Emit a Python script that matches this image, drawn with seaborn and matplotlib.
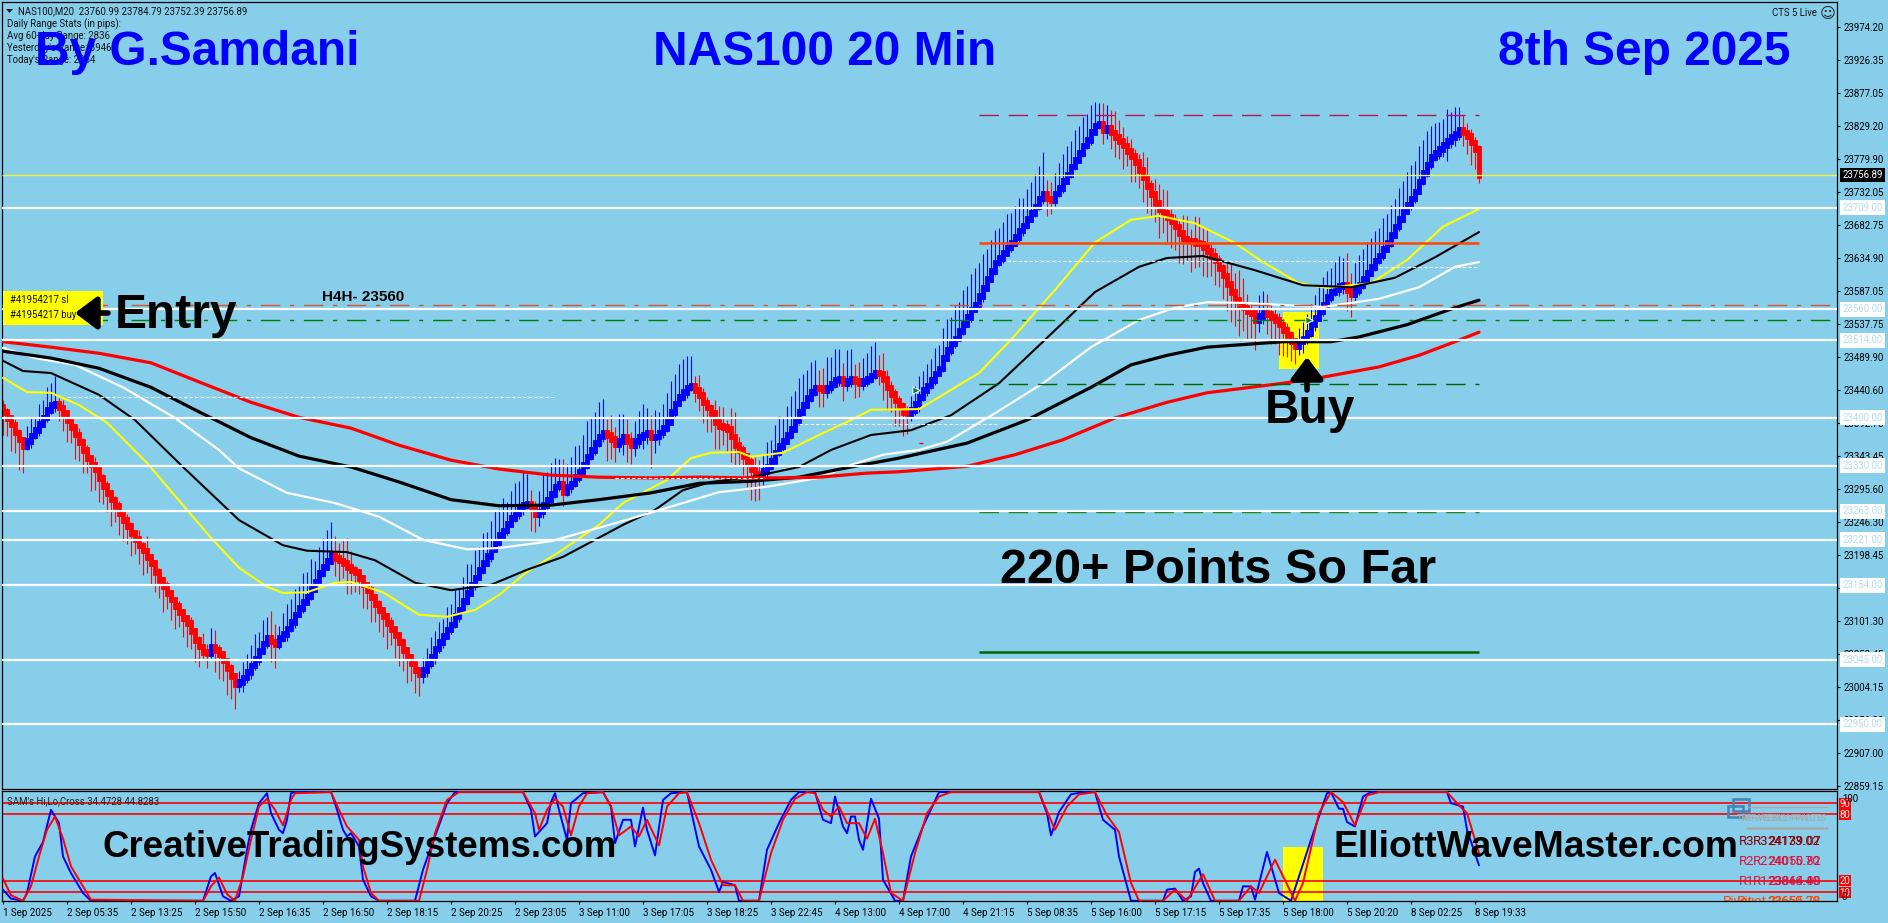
import matplotlib
matplotlib.use("Agg")
import matplotlib.pyplot as plt
from matplotlib.patches import Rectangle, FancyArrowPatch
import numpy as np
import seaborn as sns

W, H = 1888, 923
SKY = "#87CEEB"

closes = [
23409,23400,23390,23379,23368,23359,
23366,23374,23382,23391,23401,23412,23419,23421,
23415,23407,23396,23387,23376,23365,23353,23341,23332,23324,23312,23300,23290,23280,23271,23260,
23250,23241,23231,23222,23213,23205,23196,23187,23174,23162,23153,23143,23133,23124,23115,23106,
23099,23087,23074,23064,23056,23055,23064,23059,23053,23044,23033,23021,23009,
23012,23019,23027,23036,23046,23058,23069,23077,23072,23068,23077,23083,23091,23100,23111,23121,
23130,23138,23149,23160,23172,23181,23190,23199,
23194,23191,23187,23181,23177,23174,23165,23155,23147,23137,23127,23118,23109,23099,23090,23081,
23071,23059,23049,23039,23030,23024,
23030,23040,23050,23061,23071,23080,23089,23097,23109,23119,23131,23143,23155,23166,23177,23187,
23197,23207,23218,23228,23235,23244,23253,23260,23268,23272,23274,23268,23259,23263,23272,23280,
23288,23299,23303,23291,23299,23304,23313,23321,23331,23343,23353,23363,23373,
23378,23375,23369,23362,23366,23372,23366,23360,23366,23372,23376,23379,23371,23373,23379,23385,
23394,23409,23421,23431,23438,23445,23447,
23441,23434,23423,23415,23407,23394,23388,23387,23384,23373,23360,23353,23344,23335,23324,23318,
23316,23322,23329,23337,23349,23359,23366,23375,23384,23396,23409,23419,23429,23438,23445,23444,
23440,23445,23450,23456,23457,23451,23454,23457,23454,23451,23454,23457,23462,23466,23465,23457,
23445,23435,23426,23418,23409,23406,23412,
23421,23431,23441,23448,23456,23465,23473,23488,23500,23509,23517,23528,23538,23548,23559,23567,
23579,23591,23604,23616,23628,23635,23642,23650,23657,23666,23675,23683,23692,23701,23711,23722,
23730,23722,23720,23730,23738,23748,23758,23769,23779,23789,23800,23808,23820,23830,23832,
23822,23826,23819,23813,23807,23800,23792,23785,23776,23764,23753,23741,23729,23716,23706,23701,
23695,23689,23681,23672,23664,23661,23660,23657,23656,23651,23645,23638,23631,23620,23609,23597,
23585,23573,23566,23562,23557,23554,23544,23550,23556,23553,23548,23544,23537,23529,23522,23513,
23506,23512,23517,23525,23537,23547,23557,23567,23578,23585,23589,23594,23595,23587,23582,23588,
23595,23604,23613,23622,23631,23639,23648,23657,23669,23681,23692,23704,23713,23722,23733,23747,
23760,23772,23783,23789,23795,23801,23807,23813,23817,23823,23819,23814,23805,23795,23757,
]
first_open = 23416

upper_wick = [
10,6,4,8,5,3,22,28,18,30, 26,34,32,40,8,12,4,6,3,9, 5,7,3,10,4,6,8,3,5,7, 4,9,6,3,14,5,22,4,3,6,
5,8,4,3,7,5,3,9,4,6, 20,12,28,24,8,5,3,6,4,16, 22,26,30,36,28,34,30,40,25,18, 30,36,34,38,32,42,36,44,30,38,
42,46,48,28,22,30,36,24,6,4, 5,3,7,4,6,3,5,8,3,4, 6,3,5,8,4,18,22,28,26,30, 24,34,30,38,28,36,42,30,40,34,
44,36,42,46,38,48,32,40,44,40, 50,44,20,10,30,44,40,46,42,36, 36,34,38,46,40,44,52,48,46,50, 50,20,30,18,40,34,26,14,30,38,
44,36,26,38,30,36,42,46,44,48, 48,46,44,14,22,10,8,6,20,24, 28,10,30,36,12,8,5,7,18,20, 24,36,30,40,44,36,42,48,44,50,
46,42,44,40,26,30,44,40,46,44, 24,46,44,22,28,34,38,44,46,26, 30,14,10,8,6,5,9,20,26,30, 28,32,30,38,34,44,46,40,48,42,
50,46,52,54,48,50,44,46,48,44, 46,50,44,46,48,40,44,46,48,48, 60,20,24,30,36,40,42,38,44,40, 42,38,40,34,30,30,34,26,32,24,
20,14,18,10,12,26,30,8,22,28, 30,34,12,10,8,26,32,16,36,38, 24,28,10,12,8,6,20,30,28,44, 40,20,10,6,30,30,26,14,12,10,
8,10,6,5,20,24,28,30,34,38, 40,38,36,40,44,40,48,26,40,44, 44,46,42,44,40,46,42,44,40,46, 44,48,50,44,52,48,50,46,44,40,
38,47,36,40,34,22,14,10,8,6,
]
lower_wick = [
34,26,38,30,44,40,6,10,5,8, 4,7,6,10,20,26,32,24,36,28, 34,22,40,30,36,26,28,38,24,32, 30,26,34,22,28,36,24,32,30,26,
38,24,30,34,22,28,36,26,32,30, 10,22,8,32,36,30,40,34,36,12, 14,8,10,6,9,5,7,30,36,8, 6,10,5,8,4,7,5,6,4,6,
5,3,4,26,34,22,40,36,30,24, 34,28,36,26,32,30,38,24,34,36, 30,38,26,34,32,14,10,8,12,6, 9,5,7,6,8,4,6,5,7,4,
6,5,8,4,6,5,7,4,6,8, 10,5,34,26,18,10,6,8,5,7, 20,6,9,5,7,4,6,5,7,6, 8,38,30,26,12,20,30,28,16,10,
18,14,44,22,12,8,6,5,7,4, 6,9,5,18,24,30,36,28,40,34, 26,34,38,30,24,28,36,44,40,36, 14,10,6,8,5,7,4,6,5,7,
5,4,6,5,28,24,10,8,6,9, 26,12,8,24,20,10,7,6,5,16, 30,34,26,38,30,36,30,10,8,12, 6,8,5,7,4,6,5,7,6,4,
6,5,7,4,6,8,5,4,6,5, 7,4,6,5,7,8,5,4,6,5, 8,26,20,8,5,7,4,6,5,4, 6,5,7,4,5,20,12,24,30,26,
34,22,38,30,26,36,40,34,28,42, 30,36,40,34,44,38,30,46,36,34, 42,38,30,36,28,34,40,44,38,46, 34,42,36,44,18,12,30,40,36,44,
38,32,30,26,14,16,8,6,9,5, 7,5,8,6,10,12,30,34,10,8, 5,7,4,6,5,7,4,6,5,6, 4,5,7,6,4,5,6,7,5,8,
12,24,10,14,8,20,26,34,30,12,
]

ma_red_i = [0,12,24,37,49,62,74,87,99,112,124,137,149,162,174,187,195,204,216,224,241,253,265,278,291,301,320,330,344,354,363,369]
ma_red_v = [23512,23504,23495,23481,23453,23423,23401,23385,23360,23338,23325,23316,23313,23312,23313,23312,23312,23313,23319,23321,23329,23346,23368,23400,23423,23437,23451,23460,23475,23492,23512,23526]
ma_thick_i = [0,12,24,37,49,62,74,87,99,112,124,137,149,162,174,187,199,212,224,241,256,272,282,291,301,320,332,339,351,363,369]
ma_thick_v = [23498,23488,23473,23445,23409,23371,23344,23328,23306,23280,23271,23272,23280,23290,23304,23307,23313,23328,23341,23363,23397,23445,23478,23492,23504,23512,23512,23519,23537,23562,23573]
ma_white_i = [0,8,18,30,43,54,59,71,83,94,105,116,124,137,154,166,179,191,204,212,220,229,236,248,260,272,284,293,301,310,320,330,344,354,363,369]
ma_white_v = [23503,23488,23478,23445,23400,23353,23326,23290,23275,23255,23221,23207,23209,23219,23247,23268,23291,23299,23312,23331,23346,23353,23365,23407,23451,23504,23544,23562,23570,23569,23566,23563,23575,23592,23622,23629]
ma_black_i = [0,5,12,24,33,45,59,70,76,86,93,103,112,122,131,140,148,155,163,170,177,187,199,207,217,227,237,249,260,273,284,291,300,313,325,337,348,358,369]
ma_black_v = [23484,23469,23466,23434,23397,23328,23250,23213,23205,23203,23191,23158,23147,23155,23177,23196,23221,23243,23265,23294,23306,23313,23328,23353,23375,23382,23404,23451,23512,23585,23622,23635,23638,23617,23595,23592,23606,23636,23673]
ma_yellow_i = [0,6,12,19,26,36,46,52,59,66,70,76,83,87,95,104,111,118,124,131,139,149,155,166,172,177,184,187,195,204,212,217,229,244,252,263,273,282,289,298,308,315,324,331,342,351,360,369]
ma_yellow_v = [23459,23438,23437,23419,23393,23334,23265,23224,23180,23152,23143,23144,23158,23159,23144,23111,23108,23118,23140,23174,23203,23243,23275,23309,23341,23349,23350,23343,23349,23375,23397,23412,23413,23466,23515,23588,23658,23691,23697,23686,23657,23629,23598,23591,23598,23632,23681,23707]

stoch_blue_i = [0,2,5,6,8,10,12,14,15,17,20,22,50,52,53,55,57,59,61,62,64,66,67,69,70,71,72,73,82,83,85,86,87,89,90,92,94,103,105,108,111,113,130,132,133,136,137,138,139,141,142,145,150,152,153,155,157,158,160,161,163,165,167,171,174,177,179,180,183,184,189,191,194,197,199,203,205,207,208,210,211,212,213,214,215,217,219,220,223,225,227,230,234,237,259,261,262,264,267,270,273,275,278,279,282,290,291,293,295,297,298,299,300,302,309,310,312,313,316,319,322,327,331,332,334,335,336,338,340,342,361,362,365,366,369]
stoch_blue_v = [12,4,2,9,42,55,84,72,42,27,9,2,2,24,27,6,2,6,48,66,90,99,81,66,63,75,99,100,100,90,66,60,63,51,21,6,2,2,30,60,90,100,100,84,60,72,91,99,84,57,90,99,100,87,54,75,75,51,86,66,43,93,99,100,51,30,10,19,16,2,2,48,72,93,100,100,75,72,96,69,63,78,78,57,48,94,76,21,2,2,42,69,100,100,100,81,61,82,98,100,100,75,66,42,2,2,12,13,2,6,28,31,18,2,2,15,15,3,46,9,2,57,99,100,85,85,73,69,96,100,100,90,87,66,34]
stoch_red_i = [0,2,5,7,9,11,13,15,17,20,22,50,52,54,56,58,60,62,64,66,68,70,72,73,82,84,86,89,90,92,94,104,106,108,111,114,130,133,134,136,138,140,142,144,146,150,152,154,157,159,161,164,166,169,171,174,177,180,183,185,189,192,195,198,201,203,205,207,209,211,214,216,218,220,222,225,228,231,234,237,259,263,266,269,273,276,279,282,284,290,293,296,300,303,309,312,314,318,323,325,329,332,335,338,341,344,361,364,366,369]
stoch_red_v = [22,7,2,15,42,66,78,58,33,15,3,2,15,23,8,2,24,57,87,94,84,70,93,99,100,84,69,57,33,9,2,2,30,63,93,100,100,81,66,84,94,87,61,87,99,100,87,61,69,60,75,52,87,99,100,72,39,16,16,2,2,45,75,94,100,99,84,78,87,72,72,58,76,45,9,2,45,81,96,100,100,66,87,98,100,79,64,18,2,2,12,2,26,2,2,15,9,39,2,18,81,100,91,70,97,100,100,88,81,45]

time_labels = ["1 Sep 2025","2 Sep 05:35","2 Sep 13:25","2 Sep 15:50","2 Sep 16:35","2 Sep 16:50","2 Sep 18:15","2 Sep 20:25",
               "2 Sep 23:05","3 Sep 11:00","3 Sep 17:05","3 Sep 18:25","3 Sep 22:45","4 Sep 13:00","4 Sep 17:00","4 Sep 21:15",
               "5 Sep 08:35","5 Sep 16:00","5 Sep 17:15","5 Sep 17:35","5 Sep 18:00","5 Sep 20:20","8 Sep 02:25","8 Sep 19:33"]
price_ticks = ["23974.20","23926.35","23877.05","23829.20","23779.90","23732.05","23682.75","23634.90","23587.05","23537.75",
               "23489.90","23440.60","23392.75","23343.45","23295.60","23246.30","23198.45","23149.15","23101.30","23053.45",
               "23004.15","22956.30","22907.00","22859.15"]
white_levels = [23709, 23560, 23514, 23400, 23330, 23263, 23221, 23154, 23045, 22950]
current_price = 23756.89

assert len(closes) == 370 and len(upper_wick) == 370 and len(lower_wick) == 370
assert len(stoch_blue_i) == len(stoch_blue_v) and len(stoch_red_i) == len(stoch_red_v)

sns.set_theme(style="white", rc={"axes.facecolor": SKY, "figure.facecolor": SKY, "savefig.facecolor": SKY})
plt.rcParams["font.family"] = ["Roboto", "DejaVu Sans"]
BOLD = "Liberation Sans"
FS = 6.9

fig = plt.figure(figsize=(W / 100, H / 100), dpi=100)
L, R = 2, 1837
ax = fig.add_axes([L / W, 1 - 789 / H, (R - L) / W, (789 - 2) / H])
pn = fig.add_axes([L / W, 1 - 901 / H, (R - L) / W, (901 - 791) / H])
x0, x1 = -0.25, 458.5
for a in (ax, pn):
    a.set_xlim(x0, x1)
    a.set_facecolor(SKY)
    a.grid(False)
    for s in a.spines.values():
        s.set_color("black")
        s.set_linewidth(0.9)
    a.spines["right"].set_visible(True)
ax.set_ylim(22855, 24011)
pn.set_ylim(1.8, 101)
idx = np.arange(len(closes))
opens = np.array([first_open] + closes[:-1], dtype=float)
cl = np.array(closes, dtype=float)
up = cl >= opens
colors = np.where(up, "#0000ff", "#ff0000")
wick_colors = np.where(up, "#0000ff", "#dc1414")
tops = np.maximum(opens, cl) + np.array(upper_wick)
bots = np.minimum(opens, cl) - np.array(lower_wick)

ax.add_patch(Rectangle((319, 23472), 10, 42, facecolor="#ffff00", edgecolor="none", zorder=1))
ax.add_patch(Rectangle((320, 23514), 9, 42, facecolor="#ffff00", edgecolor="none", zorder=1))

ax.vlines(idx, bots, tops, colors=wick_colors, linewidth=0.8, zorder=2)
ax.bar(idx, np.abs(cl - opens) + 8, bottom=np.minimum(opens, cl) - 4, width=0.9, color=colors,
       edgecolor=colors, linewidth=0.6, zorder=2.2)

for xs, ys, c, lw in [(ma_yellow_i, ma_yellow_v, "#ffff00", 1.5),
                      (ma_black_i, ma_black_v, "black", 1.5),
                      (ma_white_i, ma_white_v, "white", 1.6),
                      (ma_thick_i, ma_thick_v, "black", 2.3),
                      (ma_red_i, ma_red_v, "#ff0000", 2.3)]:
    sns.lineplot(x=xs, y=ys, ax=ax, color=c, linewidth=lw, estimator=None, sort=False, legend=False, zorder=3)

ax.hlines([23566], x0, x1, colors="#d8552b", linewidth=1.0, linestyles=(0, (14, 7, 3, 7)), zorder=3.5)
ax.hlines([23544], x0, x1, colors="#008000", linewidth=1.0, linestyles=(0, (14, 7, 3, 7)), zorder=3.5)
piv0, piv1 = 244, 369
ax.hlines([23845], piv0, piv1, colors="#b0174f", linewidth=1.0, linestyles=(0, (14, 7)), zorder=3.5)
ax.hlines([23657], piv0, piv1, colors="#ff4500", linewidth=1.8, zorder=3.5)
ax.hlines([23450], piv0, piv1, colors="#006400", linewidth=1.0, linestyles=(0, (14, 7)), zorder=3.5)
ax.hlines([23262], piv0, piv1, colors="#008000", linewidth=1.0, linestyles=(0, (14, 7)), zorder=3.5)
ax.hlines([23056], piv0, piv1, colors="#006400", linewidth=1.8, zorder=3.5)
white_dash = (0, (3, 2))
ax.hlines([23631], 251, 341, colors="white", linewidth=0.8, linestyles=white_dash, zorder=3.5)
ax.hlines([23622], 344, 369, colors="white", linewidth=0.8, linestyles=white_dash, zorder=3.5)
ax.hlines([23391], 199, 249, colors="white", linewidth=0.8, linestyles=white_dash, zorder=3.5)
ax.hlines([23431], 16, 138, colors="white", linewidth=0.8, linestyles=white_dash, zorder=3.5)
ax.hlines([23312], 153, 190, colors="white", linewidth=0.8, linestyles=white_dash, zorder=3.5)
ax.hlines([23363], 229, 230, colors="#ff0000", linewidth=1.0, zorder=3.5)

ax.hlines([current_price], x0, x1, colors="#f4f43c", linewidth=1.0, zorder=4)
ax.hlines(white_levels, x0, x1, colors="white", linewidth=1.6, zorder=4.5)
ax.scatter([228.3, 326.5], [23441, 23544], marker=">", s=28, color="#0a7d28", edgecolors="white", linewidths=0.7, zorder=5)

tick_pos = [24014 - 1.469 * (27 + 33 * k) for k in range(len(price_ticks))]
ax.yaxis.tick_right()
ax.set_yticks(tick_pos, price_ticks)
ax.set_xticks([])
ax.tick_params(axis="y", length=2.4, width=0.8, pad=2.5, labelsize=FS, colors="black", right=True)
tr = ax.get_yaxis_transform()
for lvl in white_levels:
    ax.text(1 + 5.2 / (R - L), lvl, f"{lvl:.2f}", transform=tr, va="center", ha="left", fontsize=FS,
            color="#b4dcf0", bbox=dict(facecolor="white", edgecolor="none", pad=1.8), zorder=10, clip_on=False)
ax.text(1 + 5.2 / (R - L), current_price, f"{current_price:.2f}", transform=tr, va="center", ha="left", fontsize=FS,
        color="white", bbox=dict(facecolor="black", edgecolor="none", pad=1.8), zorder=10, clip_on=False)

pn.axvspan(320, 330, ymin=0, ymax=54.0 / 110, facecolor="#ffff00", edgecolor="none", zorder=1)
pn.hlines([90, 80, 20, 10], x0, x1, colors="#ff0000", linewidth=1.2, zorder=2)
sns.lineplot(x=stoch_blue_i, y=stoch_blue_v, ax=pn, color="#0000ff", linewidth=1.4, estimator=None, sort=False, legend=False, zorder=3)
sns.lineplot(x=stoch_red_i, y=stoch_red_v, ax=pn, color="#ff0000", linewidth=1.4, estimator=None, sort=False, legend=False, zorder=3.2)
pn.set_xticks(np.arange(len(time_labels)) * 16, time_labels, ha="left")
pn.set_yticks([])
pn.tick_params(axis="x", length=2.4, width=0.8, pad=3, labelsize=7.0, colors="black", bottom=True)


def T(x, y, s, **kw):
    kw.setdefault("va", "baseline")
    return fig.text(x / W, 1 - y / H, s, zorder=20, **kw)


def box(x, y, w, h, **kw):
    fig.add_artist(Rectangle((x / W, 1 - (y + h) / H), w / W, h / H, transform=fig.transFigure, zorder=15, **kw))


def arrow(p, q):
    fig.add_artist(FancyArrowPatch((p[0] / W, 1 - p[1] / H), (q[0] / W, 1 - q[1] / H), transform=fig.transFigure,
                   arrowstyle="-|>,head_length=6,head_width=4.5", mutation_scale=2.2, linewidth=4, color="black",
                   shrinkA=0, shrinkB=0, zorder=16))


# yellow trade tags
box(3, 291, 100, 34, facecolor="#ffff00", edgecolor="none")
small = dict(fontsize=FS, color="#111111")
T(10, 303, "#41954217 sl", **small)
T(10, 318, "#41954217 buy", **small)
T(18, 14, "NAS100,M20  23760.99 23784.79 23752.39 23756.89", **small)
fig.add_artist(plt.Polygon([[(6 / W), 1 - 9 / H], [13 / W, 1 - 9 / H], [9.5 / W, 1 - 13 / H]], transform=fig.transFigure,
                           facecolor="#222222", edgecolor="none", zorder=15))
T(7, 27, "Daily Range Stats (in pips):", **small)
T(7, 39, "Avg 60-day Range: 2836", **small)
T(7, 51, "Yesterday's Range: 3946", **small)
T(7, 63, "Today's Range: 2364", **small)
T(1772, 16, "CTS 5 Live", **small)
T(1820, 18, "\u263a", fontsize=11, color="#222222", family="DejaVu Sans")
T(7, 804, "SAM's Hi,Lo,Cross 34.4728 44.8283", fontsize=FS, color="#222222")

big = dict(family=BOLD, fontweight="bold", fontsize=34.5)
T(35, 65, "By G.Samdani", color="#0000ff", **big)
T(653, 65, "NAS100 20 Min", color="#0000ff", **big)
T(1498, 65, "8th Sep 2025", color="#0000ff", **big)
T(115, 328, "Entry", color="black", **big)
T(1265, 423, "Buy", color="black", **big)
T(1000, 583, "220+ Points So Far", color="black", family=BOLD, fontweight="bold", fontsize=35)
T(322, 301, "H4H- 23560", family=BOLD, fontweight="bold", fontsize=11, color="black")
T(103, 857, "CreativeTradingSystems.com", family=BOLD, fontweight="bold", fontsize=26.5, color="black")
T(1333, 857, "ElliottWaveMaster.com", family=BOLD, fontweight="bold", fontsize=26.8, color="black")
arrow((108, 313), (75, 313))
arrow((1307, 390), (1307, 357))

# right-hand widgets of the lower panel
for y, s in [(803, "90"), (814, "80"), (880, "20"), (892, "10")]:
    box(1839, y - 5.5, 12, 11, facecolor="#ff0000", edgecolor="none")
    T(1845, y, s, fontsize=FS, color="#f0f0f0", ha="center", va="center_baseline")
T(1842, 802, "100", fontsize=FS, color="black")
T(1842, 900, "0", fontsize=FS, color="black")
box(1733, 799, 16, 12, facecolor="none", edgecolor="#4682b4", linewidth=1.8)
box(1728, 806, 15, 11, facecolor="none", edgecolor="#4682b4", linewidth=1.8)
fig.add_artist(plt.Line2D([1747 / W, 1827 / W], [1 - 807 / H] * 2, color="#a9a9a9", linewidth=0.9, zorder=15))
fig.add_artist(plt.Line2D([1747 / W, 1827 / W], [1 - 828 / H] * 2, color="#a9a9a9", linewidth=1.8, zorder=15))
T(1737, 821, "TRF-WEEKLY-PIVOTS", fontsize=6.6, color="#a9a9a9")
T(1741, 821, "TRF-WEEKLY-PIVOTS", fontsize=6.6, color="#a9a9a9")
pivot_rows = [(845, "R3", "24173.02", "24139.07", "#8b0000"), (865, "R2", "24015.70", "24050.82", "#dc143c"),
              (885, "R1", "23846.40", "23864.88", "#dc143c")]
for y, n, a, b, c in pivot_rows:
    T(1739, y, n, fontsize=9.5, color=c)
    T(1753, y, n, fontsize=9.5, color=c)
    T(1820, y, a, fontsize=9, color=c, ha="right")
    T(1821, y, b, fontsize=9, color=c, ha="right")
p1 = T(1723, 905, "Pivot", fontsize=9.5, color="#ff4500")
p2 = T(1737, 905, "Pivot", fontsize=9.5, color="#ff4500")
p3 = T(1820, 905, "23659.20", fontsize=9, color="#ff4500", ha="right")
p4 = T(1821, 905, "23655.78", fontsize=9, color="#ff4500", ha="right")
clip = Rectangle((0, 1 - 901 / H), 1, 110 / H, transform=fig.transFigure)
for p in (p1, p2, p3, p4):
    p.set_clip_path(clip)
    p.set_clip_on(True)

fig.savefig("out.png", dpi=100)
